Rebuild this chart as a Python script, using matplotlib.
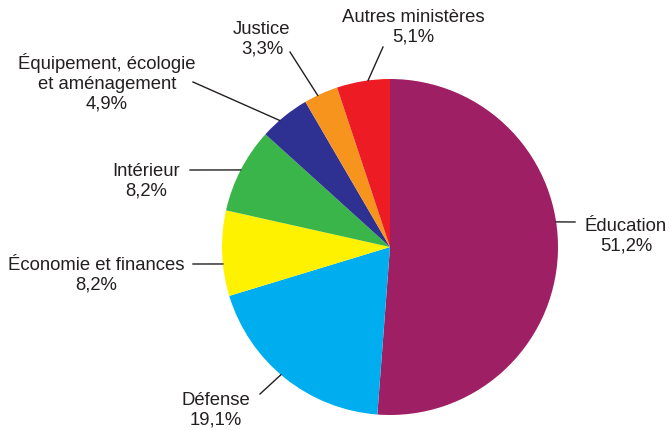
import matplotlib.pyplot as plt
import numpy as np

plt.rcParams['font.family'] = ['Liberation Sans', 'DejaVu Sans']

# Data (clockwise from 12 o'clock)
labels = ["Éducation", "Défense", "Économie et finances", "Intérieur",
          "Équipement, écologie\net aménagement", "Justice", "Autres ministères"]
shares = [51.2, 19.1, 8.2, 8.2, 4.9, 3.3, 5.1]
colors = ["#9E1F63", "#00AEEF", "#FFF200", "#3AB54A", "#2E3192", "#F7941D", "#ED1C24"]

W, H = 669, 431
fig = plt.figure(figsize=(W / 100, H / 100), dpi=100)
ax = fig.add_axes([0, 0, 1, 1])

cx, cy, r = 390, H - 248, 168
ax.pie(shares, colors=colors, startangle=90, counterclock=False,
       center=(cx, cy), radius=r, wedgeprops=dict(linewidth=0), frame=True)
ax.set_xlim(0, W)
ax.set_ylim(0, H)
ax.set_aspect('equal')
ax.set_axis_off()

# label layout: (angle of leader start on rim, leader end px, text centre px)
layout = [
    (8.6, (575, 223), (626, 236)),
    (229.5, (260, 395), (216, 410)),
    (185.8, (193, 265), (96, 275)),
    (152.7, (190, 171), (146, 181)),
    (131.1, (193, 83), (107, 83)),
    (115.5, (290, 53), (262, 39)),
    (97.5, (383, 48), (413, 27)),
]

txt_color = "#231F20"
for lab, val, (ang, end, tpos) in zip(labels, shares, layout):
    a = np.deg2rad(ang)
    x0, y0 = cx + r * np.cos(a), cy + r * np.sin(a)
    ax.plot([x0, end[0]], [y0, H - end[1]], color=txt_color, lw=1)
    pct = f"{val:.1f}".replace(".", ",") + "%"
    ax.text(tpos[0], H - tpos[1], f"{lab}\n{pct}", ha='center', va='center',
            multialignment='center', fontsize=13.3, color=txt_color,
            linespacing=1.2)

fig.savefig("out.png", dpi=100)
